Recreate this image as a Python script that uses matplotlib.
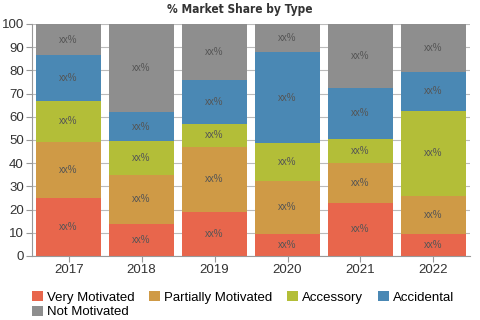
import matplotlib
matplotlib.use("Agg")
import matplotlib.pyplot as plt
import numpy as np
from matplotlib.patches import Patch
from matplotlib import font_manager
from matplotlib.font_manager import FontProperties

years = ["2017", "2018", "2019", "2020", "2021", "2022"]
series_names = ["Very Motivated", "Partially Motivated", "Accessory", "Accidental", "Not Motivated"]
very_motivated = [25, 14, 19, 9.5, 23, 9.5]
partially_motivated = [24, 21, 28, 23, 17, 16.5]
accessory = [18, 14.5, 10, 16, 10.5, 36.5]
accidental = [19.5, 12.5, 19, 39.5, 22, 17]
not_motivated = [13.5, 38, 24, 12, 27.5, 20.5]
colors = ["#E8664C", "#CF9A46", "#B3BE38", "#4A88B4", "#8E8E8E"]

series = [very_motivated, partially_motivated, accessory, accidental, not_motivated]

# find a bold condensed/narrow font for the title
cands = []
for f in font_manager.fontManager.ttflist:
    fn = f.fname.lower()
    if ("condensed" in fn or "narrow" in fn) and ("bold" in fn) and ("oblique" not in fn) and ("italic" not in fn):
        cands.append(f.fname)
cands.sort(key=lambda p: (0 if "liberation" in p.lower() else 1 if "dejavusans" in p.lower() else 2, p))
if cands:
    title_fp = FontProperties(fname=cands[0], size=8.6)
else:
    title_fp = FontProperties(family="DejaVu Sans", weight="bold", size=7.5)

plt.rcParams["font.family"] = ["Liberation Sans", "DejaVu Sans"]

fig = plt.figure(figsize=(4.8, 3.2), dpi=100)
ax = fig.add_axes([0.067, 0.2, 0.912, 0.725])
x = np.arange(len(years))
bottom = np.zeros(len(years))
for vals, c in zip(series, colors):
    vals = np.array(vals)
    ax.bar(x, vals, bottom=bottom, width=0.89, color=c, zorder=2)
    for xi, b, v in zip(x, bottom, vals):
        ax.text(xi, b + v / 2, "xx%", ha="center", va="center", fontsize=7, color="#555555", zorder=3)
    bottom += vals

ax.set_xlim(-0.5, len(years) - 0.5)
ax.set_ylim(0, 100)
ax.set_yticks(range(0, 101, 10))
ax.set_xticks(x)
ax.set_xticklabels(years)
ax.yaxis.grid(True, color="#bbbbbb", linewidth=0.8, zorder=0)
for s in ["top", "right"]:
    ax.spines[s].set_visible(False)
for s in ["left", "bottom"]:
    ax.spines[s].set_color("#999999")
ax.tick_params(axis="both", colors="#999999", labelcolor="#333333", labelsize=9.5, length=4, pad=2)
fig.text(0.5, 1 - 10 / 320, "% Market Share by Type", fontproperties=title_fp, color="#333333",
         ha="center", va="center")

order = [0, 4, 1, 2, 3]
handles = [Patch(facecolor=colors[i], edgecolor="none") for i in order]
labels = [series_names[i] for i in order]
fig.legend(handles, labels, loc="lower left", bbox_to_anchor=(0.05, -0.02), ncol=4, frameon=False,
           fontsize=9.5, handlelength=0.85, handleheight=0.85, handletextpad=0.3, columnspacing=1.1,
           labelspacing=0.15, borderaxespad=0.2)

fig.savefig("out.png", dpi=100)
